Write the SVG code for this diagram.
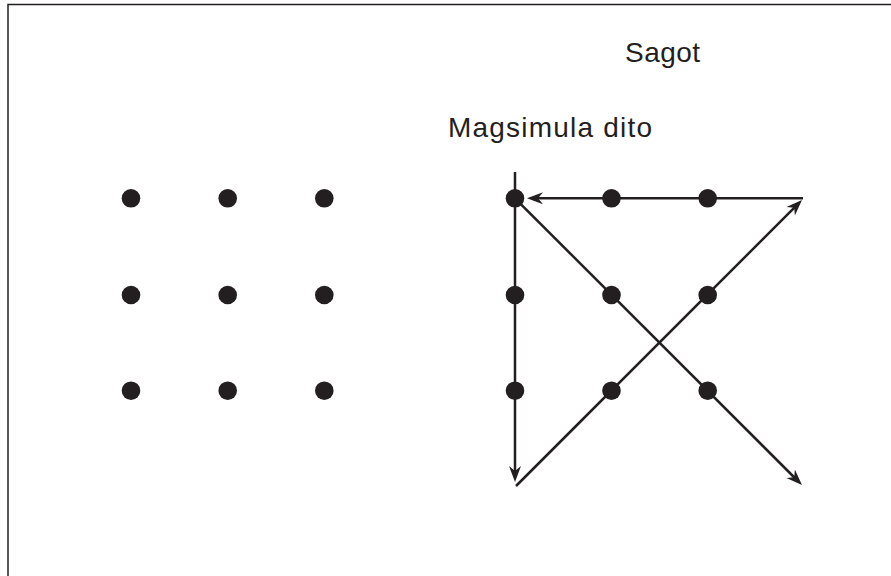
<svg xmlns="http://www.w3.org/2000/svg" width="891" height="576" viewBox="0 0 891 576">
<style>
.dot{fill:#231f20}
.ln{fill:none;stroke:#231f20;stroke-width:2.5}
.txt{font-family:"Liberation Sans",Arial,sans-serif;font-size:28px;fill:#231f20}
</style>
<defs>
<marker id="ah" markerUnits="userSpaceOnUse" markerWidth="17" markerHeight="13" viewBox="0 0 17 13" refX="6" refY="6.5" orient="auto">
<path d="M16,6.5 L0,0.5 L5,6.5 L0,12.5 Z" fill="#231f20"/>
</marker>
</defs>
<rect x="8" y="4.5" width="900" height="600" fill="#fff" stroke="#231f20" stroke-width="1.5"/>
<g id="labels">
<text class="txt" x="625" y="62" textLength="75">Sagot</text>
<text class="txt" x="448" y="137" textLength="204">Magsimula dito</text>
</g>
<g id="left-grid">
<g id="l11"><circle class="dot" cx="131" cy="198.3" r="9.3"/></g>
<g id="l12"><circle class="dot" cx="227.7" cy="198.3" r="9.3"/></g>
<g id="l13"><circle class="dot" cx="324.3" cy="198.3" r="9.3"/></g>
<g id="l21"><circle class="dot" cx="131" cy="295" r="9.3"/></g>
<g id="l22"><circle class="dot" cx="227.7" cy="295" r="9.3"/></g>
<g id="l23"><circle class="dot" cx="324.3" cy="295" r="9.3"/></g>
<g id="l31"><circle class="dot" cx="131" cy="390.7" r="9.3"/></g>
<g id="l32"><circle class="dot" cx="227.7" cy="390.7" r="9.3"/></g>
<g id="l33"><circle class="dot" cx="324.3" cy="390.7" r="9.3"/></g>
</g>
<g id="connectors">
<path class="ln" d="M515,172 L515,472" marker-end="url(#ah)"/>
<path class="ln" d="M516,486 L794.9,207.1" marker-end="url(#ah)"/>
<path class="ln" d="M803,198.3 L537,198.3" marker-end="url(#ah)"/>
<path class="ln" d="M515,198.3 L794.9,478" marker-end="url(#ah)"/>
</g>
<g id="right-grid">
<g id="r11"><circle class="dot" cx="515" cy="198.3" r="9.3"/></g>
<g id="r12"><circle class="dot" cx="611.5" cy="198.3" r="9.3"/></g>
<g id="r13"><circle class="dot" cx="707.7" cy="198.3" r="9.3"/></g>
<g id="r21"><circle class="dot" cx="515" cy="295" r="9.3"/></g>
<g id="r22"><circle class="dot" cx="611.5" cy="295" r="9.3"/></g>
<g id="r23"><circle class="dot" cx="707.7" cy="295" r="9.3"/></g>
<g id="r31"><circle class="dot" cx="515" cy="390.7" r="9.3"/></g>
<g id="r32"><circle class="dot" cx="611.5" cy="390.7" r="9.3"/></g>
<g id="r33"><circle class="dot" cx="707.7" cy="390.7" r="9.3"/></g>
</g>
</svg>
